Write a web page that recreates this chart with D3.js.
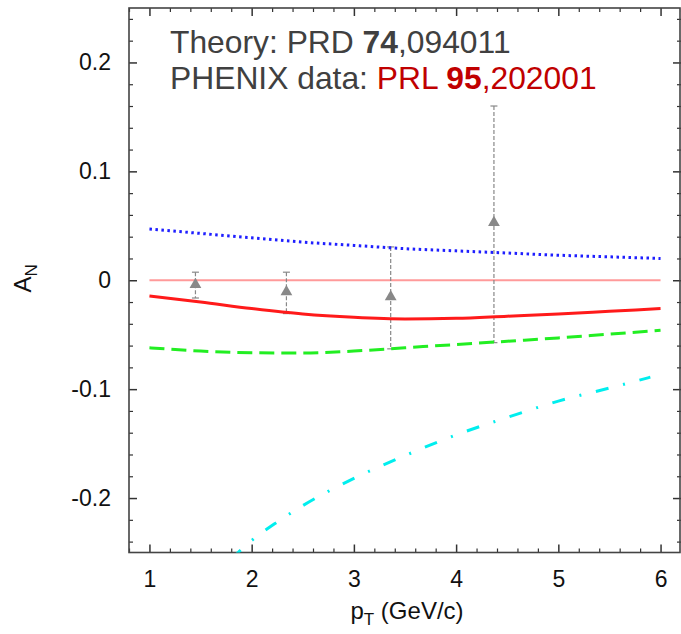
<!DOCTYPE html>
<html>
<head>
<meta charset="utf-8">
<script src="https://cdn.jsdelivr.net/npm/d3@7"></script>
<style>
  body { margin: 0; background: #fff; }
  svg { display: block; font-family: "Liberation Sans", Arial, sans-serif; }
</style>
</head>
<body>
<div id="chart"></div>
<script>
// theory curves (pT in GeV/c, A_N)
const pt = [1, 1.5, 2, 2.5, 3, 3.5, 4, 4.5, 5, 5.5, 6];
const anSolid  = [-0.0145, -0.020, -0.026, -0.031, -0.034, -0.0355, -0.035, -0.033, -0.031, -0.0285, -0.026];
const anDotted = [0.047, 0.043, 0.039, 0.035, 0.032, 0.029, 0.027, 0.025, 0.023, 0.0215, 0.020];
const anDashed = [-0.062, -0.065, -0.0665, -0.0668, -0.065, -0.062, -0.059, -0.056, -0.053, -0.0495, -0.046];
const ptDashDot = [1.8, 2.0, 2.25, 2.5, 3.0, 3.5, 4.0, 4.5, 5.0, 5.5, 5.9];
const anDashDot = [-0.256, -0.239, -0.222, -0.207, -0.182, -0.161, -0.142, -0.126, -0.111, -0.099, -0.089];

// PHENIX points
const dataPt = [1.45, 2.34, 3.36, 4.37];
const dataAn = [-0.004, -0.0107, -0.0153, 0.053];
const dataHi = [0.0074, 0.0074, 0.0306, 0.160];
const dataLo = [-0.0163, -0.0306, -0.063, -0.0573];

const xTicks = [1, 2, 3, 4, 5, 6];
const yTicks = [-0.2, -0.1, 0, 0.1, 0.2];

const width = 681, height = 634;
const svg = d3.select("#chart").append("svg").attr("width", width).attr("height", height);

const x = d3.scaleLinear().domain([0.8, 6.2]).range([129, 681]);
const y = d3.scaleLinear().domain([-0.25, 0.25]).range([552.5, 8]);

const xMinor = d3.range(0.8, 6.21, 0.2).map(v => +v.toFixed(1)).filter(v => !xTicks.includes(v));
const yMinor = d3.range(-0.24, 0.241, 0.02).map(v => +v.toFixed(2)).filter(v => !yTicks.includes(v));

svg.append("defs").append("clipPath").attr("id", "plot-clip")
  .append("rect")
  .attr("x", x.range()[0]).attr("y", y.range()[1])
  .attr("width", x.range()[1] - x.range()[0])
  .attr("height", y.range()[0] - y.range()[1]);

function drawAxes() {
  const tickColor = "#333";
  const axes = [
    [d3.axisBottom(x), `translate(0,${y.range()[0]})`, xTicks, xMinor, true],
    [d3.axisTop(x), `translate(0,${y.range()[1]})`, xTicks, xMinor, false],
    [d3.axisLeft(y), `translate(${x.range()[0]},0)`, yTicks, yMinor, true],
    [d3.axisRight(y), `translate(${x.range()[1]},0)`, yTicks, yMinor, false]
  ];
  axes.forEach(([ax, tr, major, minor, labels]) => {
    svg.append("g").attr("transform", tr)
      .call(ax.tickValues(minor).tickSize(-4).tickFormat(""))
      .call(g => g.select(".domain").remove())
      .call(g => g.selectAll("line").attr("stroke", tickColor).attr("stroke-width", 1.2));
    svg.append("g").attr("transform", tr)
      .call(ax.tickValues(major).tickSize(-8).tickPadding(labels ? 18 : 0)
        .tickFormat(labels ? (d => String(d)) : ""))
      .call(g => g.select(".domain").remove())
      .call(g => g.selectAll("line").attr("stroke", tickColor).attr("stroke-width", 1.5))
      .call(g => g.selectAll("text").attr("fill", "#111")
        .style("font-size", "23px").style("font-family", "'Liberation Sans', Arial, sans-serif"));
  });

  svg.append("rect")
    .attr("x", x.range()[0]).attr("y", y.range()[1])
    .attr("width", x.range()[1] - x.range()[0] - 1)
    .attr("height", y.range()[0] - y.range()[1])
    .attr("fill", "none").attr("stroke", "#444").attr("stroke-width", 1.6);
}

function drawCurve(xs, ys, color, dash) {
  const line = d3.line().curve(d3.curveMonotoneX).x(d => x(d[0])).y(d => y(d[1]));
  svg.append("path")
    .datum(xs.map((v, i) => [v, ys[i]]))
    .attr("clip-path", "url(#plot-clip)")
    .attr("fill", "none")
    .attr("stroke", color)
    .attr("stroke-width", 3)
    .attr("stroke-dasharray", dash)
    .attr("d", line);
}

function drawData() {
  // zero line
  svg.append("line")
    .attr("x1", x(1)).attr("x2", x(6))
    .attr("y1", y(0)).attr("y2", y(0))
    .attr("stroke", "#ff9a9a").attr("stroke-width", 1.8);

  const g = svg.append("g");
  dataPt.forEach((p, i) => {
    const cx = x(p);
    g.append("line")
      .attr("x1", cx).attr("x2", cx).attr("y1", y(dataHi[i])).attr("y2", y(dataLo[i]))
      .attr("stroke", "#888").attr("stroke-width", 1.2).attr("stroke-dasharray", "4,2");
    [dataHi[i], dataLo[i]].forEach(v => {
      g.append("line")
        .attr("x1", cx - 3.5).attr("x2", cx + 3.5).attr("y1", y(v)).attr("y2", y(v))
        .attr("stroke", "#888").attr("stroke-width", 1.2);
    });
    g.append("path")
      .attr("transform", `translate(${cx},${y(dataAn[i])})`)
      .attr("d", d3.symbol(d3.symbolTriangle, 60))
      .attr("fill", "#888");
  });
}

function drawLabels() {
  const t = svg.append("text").attr("x", 170).attr("y", 53)
    .style("font-size", "31.8px").attr("fill", "#404040");
  t.append("tspan").text("Theory: PRD ");
  t.append("tspan").attr("font-weight", "bold").text("74");
  t.append("tspan").text(",094011");

  const t2 = svg.append("text").attr("x", 170).attr("y", 89)
    .style("font-size", "31.8px").attr("fill", "#404040");
  t2.append("tspan").text("PHENIX data: ");
  t2.append("tspan").attr("fill", "#c00000").text("PRL ");
  t2.append("tspan").attr("fill", "#c00000").attr("font-weight", "bold").text("95");
  t2.append("tspan").attr("fill", "#c00000").text(",202001");

  const xl = svg.append("text").attr("x", 407).attr("y", 619)
    .attr("text-anchor", "middle").style("font-size", "24px").attr("fill", "#111");
  xl.append("tspan").text("p");
  xl.append("tspan").attr("dy", 6).style("font-size", "17px").text("T");
  xl.append("tspan").attr("dy", -6).text(" (GeV/c)");

  const yl = svg.append("text")
    .attr("transform", `translate(31,${y(0) - 2}) rotate(-90)`)
    .attr("text-anchor", "middle").style("font-size", "24px").attr("fill", "#111");
  yl.append("tspan").text("A");
  yl.append("tspan").attr("dy", 6).style("font-size", "17px").text("N");
}

drawAxes();
drawData();
drawCurve(pt, anDotted, "#1f1fff", "2.5,3.5");
drawCurve(pt, anSolid, "#ff1a1a", null);
drawCurve(pt, anDashed, "#22ee22", "15,7");
drawCurve(ptDashDot, anDashDot, "#00eeee", "13,15,2,15");
drawLabels();
</script>
</body>
</html>
